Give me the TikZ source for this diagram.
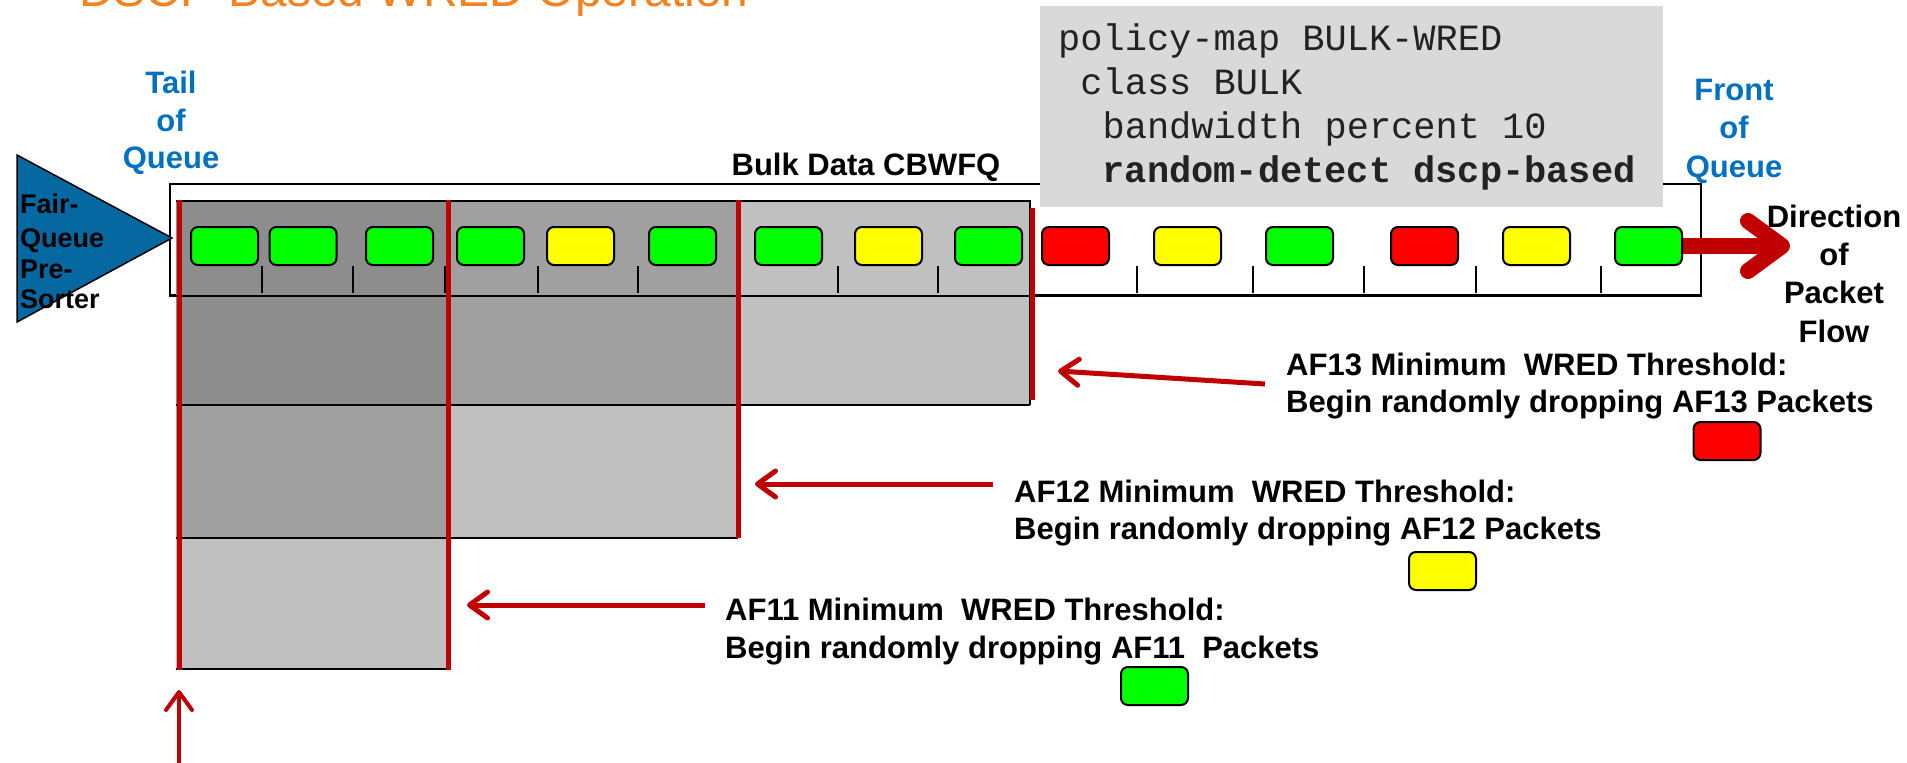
\documentclass[tikz,border=0pt]{standalone}
\usepackage{fontspec}
\setmainfont{Liberation Sans}
\newfontfamily\codefont{Liberation Mono}
\usetikzlibrary{arrows.meta}
\definecolor{ttl}{RGB}{245,130,32}
\definecolor{qblue}{RGB}{0,112,192}
\definecolor{tri}{RGB}{6,104,160}
\definecolor{dred}{RGB}{192,0,0}
\definecolor{gA}{RGB}{141,141,141}
\definecolor{gB}{RGB}{160,160,160}
\definecolor{gC}{RGB}{192,192,192}
\definecolor{codebg}{RGB}{217,217,217}
\definecolor{codetext}{RGB}{34,34,34}
\definecolor{pgreen}{RGB}{0,255,0}
\definecolor{pyellow}{RGB}{255,255,0}
\definecolor{pred}{RGB}{255,0,0}
\pgfdeclarelayer{back}
\pgfdeclarelayer{mid}
\pgfsetlayers{back,mid,main}
\begin{document}
\begin{tikzpicture}[x=1pt,y=-1pt,
  pkt/.style={draw=black, line width=2pt, rounded corners=7pt, minimum width=67pt, minimum height=38pt, inner sep=0pt, outer sep=0pt},
  gpkt/.style={pkt, fill=pgreen},
  ypkt/.style={pkt, fill=pyellow},
  rpkt/.style={pkt, fill=pred},
  qlbl/.style={text=qblue, font=\bfseries\fontsize{31}{37}\selectfont, inner sep=0pt, anchor=base},
  blk/.style={font=\bfseries\fontsize{31}{37}\selectfont, inner sep=0pt, anchor=base},
  thr/.style={font=\bfseries\fontsize{31}{37}\selectfont, inner sep=0pt, anchor=base west},
  sorter/.style={font=\bfseries\fontsize{27}{32}\selectfont, inner sep=0pt, anchor=base west},
  codeline/.style={font=\codefont\fontsize{37}{44}\selectfont, text=codetext, inner sep=0pt, anchor=base west},
  redline/.style={draw=dred, line width=5pt},
  thrarrow/.style={draw=dred, line width=5pt, -{Straight Barb[length=18pt,width=26pt,round]}},
  dirarrow/.style={draw=dred, line width=16pt, -{Straight Barb[length=34pt,width=50pt,round]}},
  boxedge/.style={draw=black, line width=2pt},
  qtick/.style={draw=black, line width=1.5pt},
]
\useasboundingbox (0,0) rectangle (1907,763);

% title (cut off at top)
\node[anchor=base west, text=ttl, font=\fontsize{48}{56}\selectfont, inner sep=0pt] (title) at (79,6) {DSCP-Based WRED Operation};

\begin{pgfonlayer}{back}
  \node[draw=black, line width=2pt, fill=white, minimum width=1531pt, minimum height=111pt, inner sep=0pt, anchor=north west] (queue) at (169,183) {};
  % gray staircase
  \fill[gA] (176,201) rectangle (448,405);
  \fill[gB] (448,201) rectangle (738,405);
  \fill[gC] (738,201) rectangle (1030,405);
  \fill[gB] (176,405) rectangle (448,538);
  \fill[gC] (448,405) rectangle (738,538);
  \fill[gC] (176,538) rectangle (448,669);
  \draw[boxedge] (176,201) -- (1030,201) -- (1030,405);
  \draw[boxedge] (176,405) -- (1030,405);
  \draw[boxedge] (176,538) -- (738,538);
  \draw[boxedge] (176,669) -- (448,669);
  \draw[boxedge] (queue.south west) -- (queue.south east);
  \foreach \x in {262,353,445,538,638,838,938,1137,1253,1364,1476,1601}
    \draw[qtick] (\x,266) -- (\x,293);
\end{pgfonlayer}

% threshold red lines
\draw[redline] (179,200) -- (179,670);
\draw[redline] (448,200) -- (448,670);
\draw[redline] (738,200) -- (738,538);
\draw[redline] (1032,208) -- (1032,400);

% packets in queue
\node[gpkt] (p1) at (224.5,246) {};
\node[gpkt] (p2) at (303,246) {};
\node[gpkt] (p3) at (399.5,246) {};
\node[gpkt] (p4) at (490.5,246) {};
\node[ypkt] (p5) at (580.5,246) {};
\node[gpkt] (p6) at (682.5,246) {};
\node[gpkt] (p7) at (788.5,246) {};
\node[ypkt] (p8) at (888.5,246) {};
\node[gpkt] (p9) at (988.5,246) {};
\node[rpkt] (p10) at (1075.5,246) {};
\node[ypkt] (p11) at (1187.5,246) {};
\node[gpkt] (p12) at (1299.5,246) {};
\node[rpkt] (p13) at (1424.5,246) {};
\node[ypkt] (p14) at (1536.5,246) {};
\node[gpkt] (p15) at (1648.5,246) {};

% direction of flow arrow
\coordinate (dtip) at (1790,246);
\begin{pgfonlayer}{mid}
  \draw[dirarrow] (p15.east) -- (dtip);
\end{pgfonlayer}

% pre-sorter triangle
\draw[fill=tri, draw=black, line width=1.5pt] (17,155) -- (172,238) -- (17,322) -- cycle;
\node[sorter] (s1) at (20,213) {Fair-};
\node[sorter] (s2) at (20,247) {Queue};
\node[sorter] (s3) at (20,278) {Pre-};
\node[sorter] (s4) at (20,308) {Sorter};

% code box
\node[fill=codebg, minimum width=623pt, minimum height=201pt, inner sep=0pt, anchor=north west] (code) at (1040,6) {};
\node[codeline] (c1) at (1058,50) {policy-map BULK-WRED};
\node[codeline] (c2) at (1080.2,94) {class BULK};
\node[codeline] (c3) at (1102.4,138) {bandwidth percent 10};
\node[codeline, font=\codefont\bfseries\fontsize{37}{44}\selectfont] (c4) at (1102.4,182) {random-detect dscp-based};

% labels
\node[qlbl] (t1) at (171,93) {Tail};
\node[qlbl] (t2) at (171,131) {of};
\node[qlbl] (t3) at (171,168) {Queue};
\node[qlbl] (f1) at (1734,100) {Front};
\node[qlbl] (f2) at (1734,138) {of};
\node[qlbl] (f3) at (1734,177) {Queue};
\node[blk] (bulk) at (866,175) {Bulk Data CBWFQ};
\node[blk] (d1) at (1834,227) {Direction};
\node[blk] (d2) at (1834,265) {of};
\node[blk] (d3) at (1834,303) {Packet};
\node[blk] (d4) at (1834,342) {Flow};

\node[thr] (a13a) at (1286,375) {AF13 Minimum\ \ WRED Threshold:};
\node[thr] (a13b) at (1286,412) {Begin randomly dropping AF13 Packets};
\node[thr] (a12a) at (1014,502) {AF12 Minimum\ \ WRED Threshold:};
\node[thr] (a12b) at (1014,539) {Begin randomly dropping AF12 Packets};
\node[thr] (a11a) at (725,620) {AF11 Minimum\ \ WRED Threshold:};
\node[thr] (a11b) at (725,658) {Begin randomly dropping AF11\ \ Packets};

% legend packets
\node[rpkt] (lr) at (1727,441) {};
\node[ypkt] (ly) at (1442.5,571) {};
\node[gpkt] (lg) at (1154.5,686) {};

% threshold arrows
\coordinate (a13t) at (1265,384);
\coordinate (a13h) at (1058,371);
\coordinate (a12t) at (993,484);
\coordinate (a12h) at (755,484);
\coordinate (a11t) at (705,605);
\coordinate (a11h) at (467,605);
\coordinate (upb) at (179,766);
\coordinate (upt) at (179,690);
\draw[thrarrow] (a13t) -- (a13h);
\draw[thrarrow] (a12t) -- (a12h);
\draw[thrarrow] (a11t) -- (a11h);
\draw[thrarrow, line width=4pt] (upb) -- (upt);
\end{tikzpicture}
\end{document}
